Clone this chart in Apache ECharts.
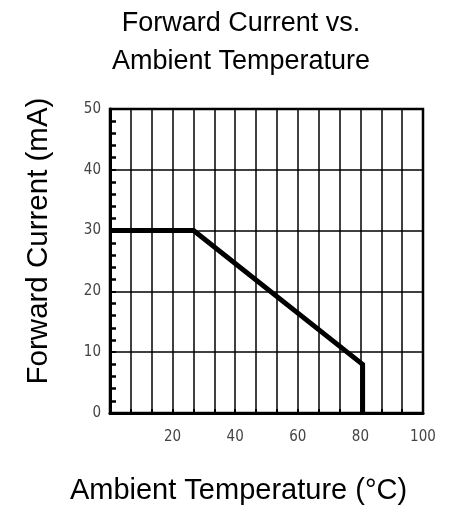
<!DOCTYPE html>
<html>
<head>
<meta charset="utf-8">
<script src="https://cdn.jsdelivr.net/npm/echarts@6/dist/echarts.min.js"></script>
<style>html,body{margin:0;padding:0;background:#fff}#c{width:469px;height:510px}</style>
</head>
<body>
<div id="c"></div>
<script>
const titleText = "Forward Current vs.\nAmbient Temperature";
const xName = "Ambient Temperature (°C)";
const yName = "Forward Current (mA)";
const temperature = [0, 26.7, 80.7, 80.7];
const current = [30, 30, 8, 0];
const xTickLabels = [20, 40, 60, 80, 100];
const yTickLabels = [0, 10, 20, 30, 40, 50];

const chart = echarts.init(document.getElementById('c'), null, {renderer: 'canvas'});
const labelStyle = {color: '#444', fontFamily: '"DejaVu Sans Condensed", "DejaVu Sans"', fontSize: 15};
chart.setOption({
  animation: false,
  backgroundColor: '#fff',
  title: {
    text: titleText, left: 241, top: 0, textAlign: 'center',
    padding: [5, 0, 5, 0],
    textStyle: {fontFamily: 'Liberation Sans', fontSize: 27, fontWeight: 'normal', color: '#000', lineHeight: 38}
  },
  grid: {left: 110, right: 46, top: 109, bottom: 97, show: true, borderColor: '#000', borderWidth: 2.5, backgroundColor: 'transparent'},
  xAxis: [{
    type: 'value', min: 0, max: 100, interval: 100 / 15, position: 'bottom',
    axisLine: {show: true, lineStyle: {color: '#000', width: 3}},
    axisTick: {show: true, inside: true, length: 4, lineStyle: {color: '#000', width: 2}},
    axisLabel: {show: false},
    splitLine: {show: true, lineStyle: {color: '#000', width: 1.5}},
    name: xName, nameLocation: 'middle', nameGap: 63,
    nameTextStyle: {fontFamily: 'Liberation Sans', fontSize: 29, color: '#000', padding: [0, 56, 0, 0]}
  }, {
    type: 'value', min: 0, max: 100, interval: 20, position: 'bottom',
    axisLine: {show: false}, axisTick: {show: false}, splitLine: {show: false},
    axisLabel: Object.assign({margin: 17, formatter: v => xTickLabels.includes(Math.round(v)) ? String(Math.round(v)) : ''}, labelStyle)
  }],
  yAxis: {
    type: 'value', min: 0, max: 50, interval: 10,
    axisLine: {show: true, lineStyle: {color: '#000', width: 3}},
    axisTick: {show: true, inside: true, length: 6, lineStyle: {color: '#000', width: 2}},
    minorTick: {show: true, splitNumber: 5, length: 6, lineStyle: {color: '#000', width: 2.5}},
    axisLabel: Object.assign({margin: 9, formatter: v => yTickLabels.includes(v) ? String(v) : ''}, labelStyle),
    splitLine: {show: true, lineStyle: {color: '#000', width: 1.5}},
    name: yName, nameLocation: 'middle', nameGap: 56, nameRotate: 90,
    nameTextStyle: {fontFamily: 'Liberation Sans', fontSize: 29.5, color: '#000', padding: [0, 0, 0, 40]}
  },
  series: [{
    type: 'line', xAxisIndex: 0,
    data: temperature.map((t, i) => [t, current[i]]),
    showSymbol: false, symbol: 'none',
    lineStyle: {color: '#000', width: 5, join: 'miter'}
  }]
});
</script>
</body>
</html>
